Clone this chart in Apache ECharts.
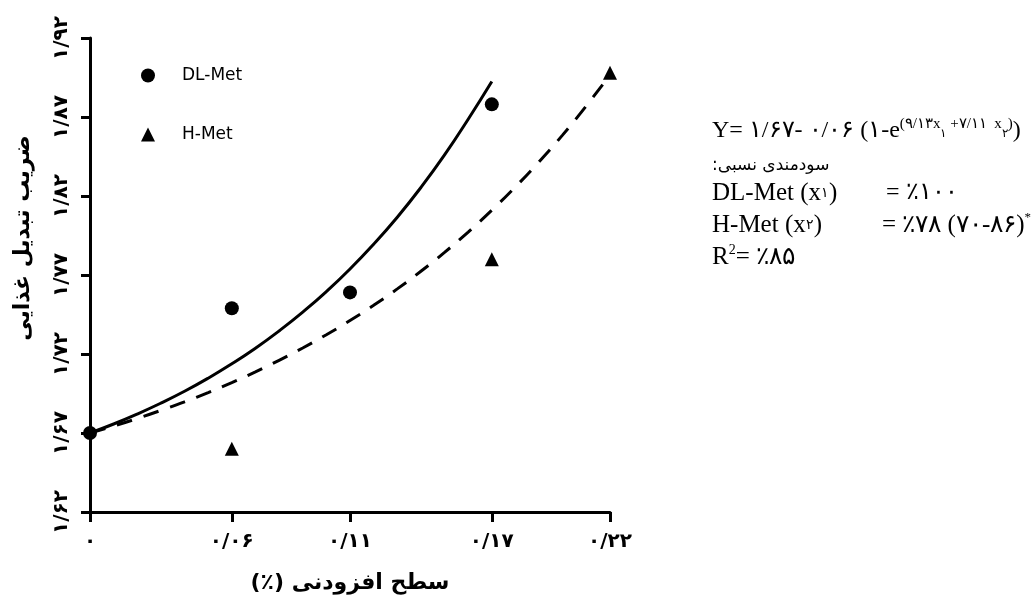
<!DOCTYPE html>
<html>
<head>
<meta charset="utf-8">
<script src="https://cdn.jsdelivr.net/npm/echarts@6/dist/echarts.min.js"></script>
<style>
  html, body { margin: 0; padding: 0; background: #fff; }
  #chart { width: 1036px; height: 603px; }
</style>
</head>
<body>
<div id="chart"></div>
<script>
// tick positions and their Persian labels
const xTickValues = [0, 0.06, 0.11, 0.17, 0.22];
const xTickLabels = ['۰', '۰/۰۶', '۰/۱۱', '۰/۱۷', '۰/۲۲'];
const yTickValues = [1.62, 1.67, 1.72, 1.77, 1.82, 1.87, 1.92];
const yTickLabels = ['۱/۶۲', '۱/۶۷', '۱/۷۲', '۱/۷۷', '۱/۸۲', '۱/۸۷', '۱/۹۲'];

// observed points
const dlX = [0, 0.06, 0.11, 0.17];
const dlY = [1.670, 1.749, 1.759, 1.878];
const hX = [0.06, 0.17, 0.22];
const hY = [1.660, 1.780, 1.898];

// fitted curves
const dlCurveX = [0, 0.01, 0.02, 0.03, 0.04, 0.05, 0.06, 0.07, 0.08, 0.09, 0.10, 0.11, 0.12, 0.13, 0.14, 0.15, 0.16, 0.17];
const dlCurveY = [1.6700, 1.6757, 1.6820, 1.6889, 1.6964, 1.7047, 1.7138, 1.7237, 1.7346, 1.7465, 1.7595, 1.7738, 1.7895, 1.8066, 1.8254, 1.8460, 1.8686, 1.8925];
const hCurveX = [0, 0.01, 0.02, 0.03, 0.04, 0.05, 0.06, 0.07, 0.08, 0.09, 0.10, 0.11, 0.12, 0.13, 0.14, 0.15, 0.16, 0.17, 0.18, 0.19, 0.20, 0.21, 0.22];
const hCurveY = [1.6700, 1.6744, 1.6792, 1.6843, 1.6897, 1.6956, 1.7019, 1.7087, 1.7160, 1.7238, 1.7322, 1.7412, 1.7508, 1.7612, 1.7724, 1.7843, 1.7972, 1.8110, 1.8258, 1.8417, 1.8587, 1.8771, 1.8967];

const pairs = (xs, ys) => xs.map((x, i) => [x, ys[i]]);
const labelFor = (ticks, labels) => v => {
  const i = ticks.findIndex(t => Math.abs(t - v) < 1e-9);
  return i >= 0 ? labels[i] : '';
};

const axisFont = 'DejaVu Sans';
const serif = '"Liberation Serif", "Times New Roman", serif';

const chart = echarts.init(document.getElementById('chart'));

const option = {
  backgroundColor: '#fff',
  animation: false,
  grid: { left: 90, right: 426, top: 38, bottom: 91 },
  legend: {
    data: ['DL-Met', 'H-Met'],
    orient: 'vertical',
    left: 136,
    top: 62,
    itemGap: 42,
    itemWidth: 14,
    itemHeight: 14,
    textStyle: { fontSize: 17, fontFamily: axisFont, color: '#000', padding: [0, 0, 0, 22] }
  },
  xAxis: {
    type: 'value',
    min: 0,
    max: 0.22,
    name: '(٪) سطح افزودنی',
    nameLocation: 'middle',
    nameGap: 60,
    nameTextStyle: { fontSize: 22, fontWeight: 'bold', fontFamily: axisFont, color: '#000' },
    axisLine: { lineStyle: { color: '#000', width: 3 } },
    axisTick: { customValues: xTickValues, length: 10, lineStyle: { width: 3, color: '#000' } },
    axisLabel: {
      customValues: xTickValues,
      formatter: labelFor(xTickValues, xTickLabels),
      margin: 20,
      fontSize: 20, fontWeight: 'bold', fontFamily: axisFont, color: '#000'
    },
    splitLine: { show: false }
  },
  yAxis: {
    type: 'value',
    min: 1.62,
    max: 1.92,
    name: 'ضریب تبدیل غذایی',
    nameLocation: 'middle',
    nameRotate: 90,
    nameGap: 56,
    nameTextStyle: { fontSize: 22, fontWeight: 'bold', fontFamily: axisFont, color: '#000', padding: [0, 0, 0, 74] },
    axisLine: { lineStyle: { color: '#000', width: 3 } },
    axisTick: { customValues: yTickValues, length: 9, lineStyle: { width: 3, color: '#000' } },
    axisLabel: {
      customValues: yTickValues,
      formatter: labelFor(yTickValues, yTickLabels),
      rotate: 90,
      margin: 18,
      fontSize: 20, fontWeight: 'bold', fontFamily: axisFont, color: '#000'
    },
    splitLine: { show: false }
  },
  series: [
    {
      name: 'DL-Met curve',
      type: 'line',
      data: pairs(dlCurveX, dlCurveY),
      smooth: true,
      showSymbol: false,
      lineStyle: { color: '#000', width: 3 }
    },
    {
      name: 'H-Met curve',
      type: 'line',
      data: pairs(hCurveX, hCurveY),
      smooth: true,
      showSymbol: false,
      lineStyle: { color: '#000', width: 3, type: [16, 12] }
    },
    {
      name: 'DL-Met',
      type: 'scatter',
      symbol: 'circle',
      symbolSize: 14,
      itemStyle: { color: '#000', opacity: 1 },
      data: pairs(dlX, dlY)
    },
    {
      name: 'H-Met',
      type: 'scatter',
      symbol: 'triangle',
      symbolSize: 14,
      itemStyle: { color: '#000', opacity: 1 },
      data: pairs(hX, hY)
    }
  ],
  graphic: [
    {
      type: 'text', x: 712, y: 131,
      style: {
        text: '{m|Y= ۱/۶۷- ۰/۰۶ (۱-e}{s|(۹/۱۳x}{b|۱}{s| +۷/۱۱  x}{b|۲}{s|)}{m|)}',
        verticalAlign: 'middle',
        rich: {
          m: { fontSize: 24, fontFamily: serif, fill: '#000', lineHeight: 28 },
          s: { fontSize: 15, fontFamily: serif, fill: '#000', verticalAlign: 'top' },
          b: { fontSize: 12, fontFamily: serif, fill: '#000', verticalAlign: 'top', padding: [11, 0, 0, 0] }
        }
      }
    },
    {
      type: 'text', x: 712, y: 166,
      style: { text: ':سودمندی نسبی', font: '17px ' + axisFont, fill: '#000', verticalAlign: 'middle' }
    },
    {
      type: 'text', x: 712, y: 193,
      style: {
        text: '{m|DL-Met (x}{d|۱}{m|)}',
        verticalAlign: 'middle',
        rich: {
          m: { fontSize: 25, fontFamily: serif, fill: '#000', lineHeight: 28 },
          d: { fontSize: 14, fontFamily: serif, fill: '#000' }
        }
      }
    },
    {
      type: 'text', x: 886, y: 193,
      style: { text: '= ٪۱۰۰', font: '24px ' + serif, fill: '#000', verticalAlign: 'middle' }
    },
    {
      type: 'text', x: 712, y: 225,
      style: {
        text: '{m|H-Met (x}{d|۲}{m|)}',
        verticalAlign: 'middle',
        rich: {
          m: { fontSize: 25, fontFamily: serif, fill: '#000', lineHeight: 28 },
          d: { fontSize: 14, fontFamily: serif, fill: '#000' }
        }
      }
    },
    {
      type: 'text', x: 882, y: 225,
      style: {
        text: '{m|= ٪۷۸ (۷۰-۸۶)}{s|*}',
        verticalAlign: 'middle',
        rich: {
          m: { fontSize: 25, fontFamily: serif, fill: '#000', lineHeight: 28 },
          s: { fontSize: 13, fontFamily: serif, fill: '#000', verticalAlign: 'top' }
        }
      }
    },
    {
      type: 'text', x: 712, y: 257,
      style: {
        text: '{m|R}{s|2}{m|= ٪۸۵}',
        verticalAlign: 'middle',
        rich: {
          m: { fontSize: 25, fontFamily: serif, fill: '#000', lineHeight: 28 },
          s: { fontSize: 14, fontFamily: serif, fill: '#000', verticalAlign: 'top' }
        }
      }
    }
  ]
};

chart.setOption(option);
</script>
</body>
</html>
